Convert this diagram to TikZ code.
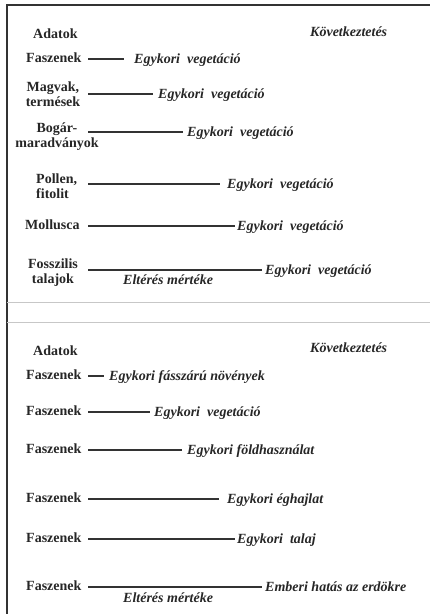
\documentclass[tikz,border=0pt]{standalone}
\usepackage{fontspec}
\setmainfont{Liberation Serif}
\tikzset{
  dat/.style={font=\bfseries\fontsize{14}{15}\selectfont,text=black!85,inner sep=0pt},
  kov/.style={font=\bfseries\itshape\fontsize{14}{15}\selectfont,text=black!85,inner sep=0pt,anchor=base west},
  vonal/.style={line width=1.6pt,black!80},
  keret/.style={line width=1.5pt,black!80},
  elvalaszto/.style={line width=0.8pt,black!22}
}
\begin{document}
\begin{tikzpicture}[x=1pt,y=-1pt]
        \useasboundingbox (0,0) rectangle (430,614);
        \draw[keret](430,5)--(7,5)--(7,614);
        \draw[elvalaszto](7,302)--(430,302) (7,322)--(430,322);
        % felso resz
        \node[dat,anchor=base west](fej1) at (33,38){Adatok};
        \node[kov](kov1) at (310,36){Következtetés};
        \node[dat,anchor=base west](a1) at (26,62){Faszenek};
        \node[kov](k1) at (134,63){Egykori~ vegetáció};
        \node[dat,anchor=base,text width=90pt,align=center](a2) at (53,91){Magvak,\\termések};
        \node[kov](k2) at (158,98){Egykori~ vegetáció};
        \node[dat,anchor=base,text width=90pt,align=center](a3) at (57,132){Bogár-\\maradványok};
        \node[kov](k3) at (187,136){Egykori~ vegetáció};
        \node[dat,anchor=base west,text width=50pt,align=left](a4) at (36,183){Pollen,\\fitolit};
        \node[kov](k4) at (227,188){Egykori~ vegetáció};
        \node[dat,anchor=base west](a5) at (25,229){Mollusca};
        \node[kov](k5) at (237,230){Egykori~ vegetáció};
        \node[dat,anchor=base,text width=90pt,align=center](a6) at (53,268){Fosszilis\\talajok};
        \node[kov](k6) at (265,274){Egykori~ vegetáció};
        \node[kov](elt1) at (123,284){Eltérés mértéke};
        \coordinate(s1) at (88,59); \coordinate(s2) at (88,94); \coordinate(s3) at (88,132);
        \coordinate(s4) at (88,184); \coordinate(s5) at (88,226); \coordinate(s6) at (88,270);
        \draw[vonal,shorten >=10pt](s1)--(s1-|k1.west);
        \draw[vonal,shorten >=5pt](s2)--(s2-|k2.west);
        \draw[vonal,shorten >=4pt](s3)--(s3-|k3.west);
        \draw[vonal,shorten >=7pt](s4)--(s4-|k4.west);
        \draw[vonal,shorten >=2pt](s5)--(s5-|k5.west);
        \draw[vonal,shorten >=3pt](s6)--(s6-|k6.west);
        % also resz
        \node[dat,anchor=base west](fej2) at (33,355){Adatok};
        \node[kov](kov2) at (310,352){Következtetés};
        \node[dat,anchor=base west](b1) at (26,379){Faszenek};
        \node[kov](m1) at (109,380){Egykori fásszárú növények};
        \node[dat,anchor=base west](b2) at (26,415){Faszenek};
        \node[kov](m2) at (154,416){Egykori~ vegetáció};
        \node[dat,anchor=base west](b3) at (26,453){Faszenek};
        \node[kov](m3) at (187,454){Egykori földhasználat};
        \node[dat,anchor=base west](b4) at (26,502){Faszenek};
        \node[kov](m4) at (227,503){Egykori éghajlat};
        \node[dat,anchor=base west](b5) at (26,542){Faszenek};
        \node[kov](m5) at (237,543){Egykori~ talaj};
        \node[dat,anchor=base west](b6) at (26,590){Faszenek};
        \node[kov](m6) at (265,591){Emberi hatás az erdökre};
        \node[kov](elt2) at (123,602){Eltérés mértéke};
        \coordinate(t1) at (88,376); \coordinate(t2) at (88,412); \coordinate(t3) at (88,450);
        \coordinate(t4) at (88,499); \coordinate(t5) at (88,539); \coordinate(t6) at (88,587);
        \draw[vonal,shorten >=5pt](t1)--(t1-|m1.west);
        \draw[vonal,shorten >=4pt](t2)--(t2-|m2.west);
        \draw[vonal,shorten >=5pt](t3)--(t3-|m3.west);
        \draw[vonal,shorten >=8pt](t4)--(t4-|m4.west);
        \draw[vonal,shorten >=2pt](t5)--(t5-|m5.west);
        \draw[vonal,shorten >=3pt](t6)--(t6-|m6.west);
\end{tikzpicture}
\end{document}
